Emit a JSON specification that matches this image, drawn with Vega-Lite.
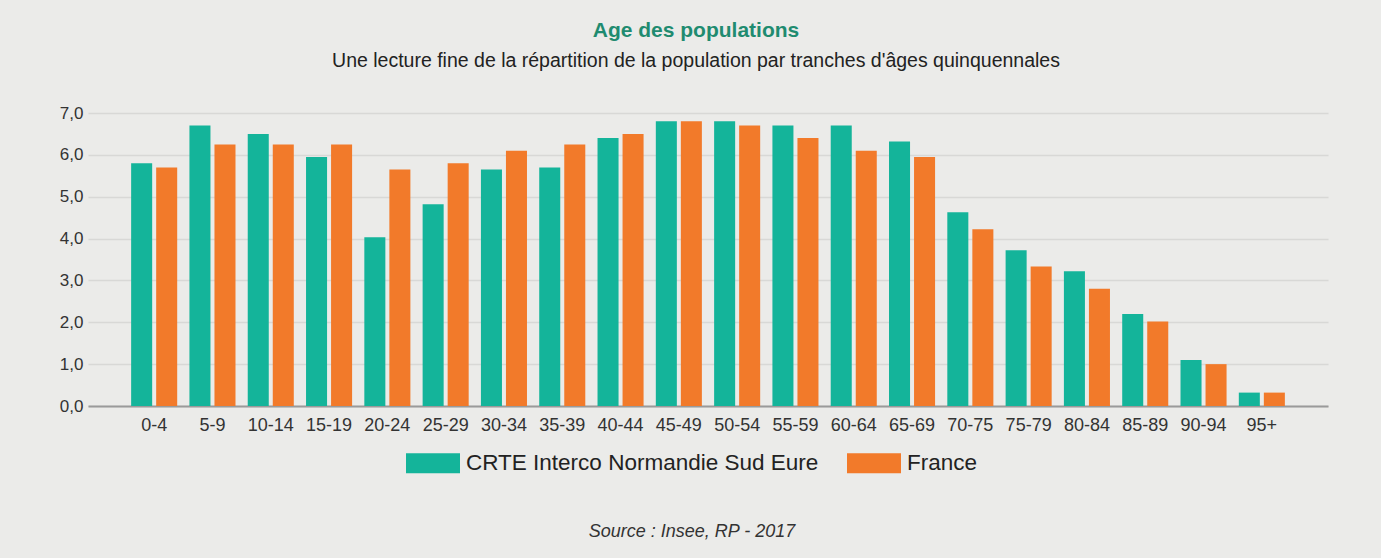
{
  "$schema": "https://vega.github.io/schema/vega-lite/v6.json",
  "autosize": {"type": "none"},
  "padding": {"left": 88, "top": 113, "right": 53, "bottom": 152},
  "width": 1240,
  "height": 293,
  "background": "#ebebe9",
  "title": {
    "text": "Age des populations",
    "subtitle": "Une lecture fine de la répartition de la population par tranches d'âges quinquennales",
    "anchor": "middle",
    "frame": "group",
    "dx": -12,
    "offset": 34,
    "font": "Liberation Sans",
    "fontSize": 21,
    "fontWeight": "bold",
    "color": "#1f8b70",
    "subtitleFont": "Liberation Sans",
    "subtitleFontSize": 19.5,
    "subtitleColor": "#222222",
    "subtitlePadding": 11,
    "limit": 1200
  },
  "data": {
    "values": [
      {"age": "0-4", "serie": "CRTE Interco Normandie Sud Eure", "valeur": 5.8},
      {"age": "0-4", "serie": "France", "valeur": 5.7},
      {"age": "5-9", "serie": "CRTE Interco Normandie Sud Eure", "valeur": 6.7},
      {"age": "5-9", "serie": "France", "valeur": 6.25},
      {"age": "10-14", "serie": "CRTE Interco Normandie Sud Eure", "valeur": 6.5},
      {"age": "10-14", "serie": "France", "valeur": 6.25},
      {"age": "15-19", "serie": "CRTE Interco Normandie Sud Eure", "valeur": 5.95},
      {"age": "15-19", "serie": "France", "valeur": 6.25},
      {"age": "20-24", "serie": "CRTE Interco Normandie Sud Eure", "valeur": 4.03},
      {"age": "20-24", "serie": "France", "valeur": 5.65},
      {"age": "25-29", "serie": "CRTE Interco Normandie Sud Eure", "valeur": 4.82},
      {"age": "25-29", "serie": "France", "valeur": 5.8},
      {"age": "30-34", "serie": "CRTE Interco Normandie Sud Eure", "valeur": 5.65},
      {"age": "30-34", "serie": "France", "valeur": 6.1},
      {"age": "35-39", "serie": "CRTE Interco Normandie Sud Eure", "valeur": 5.7},
      {"age": "35-39", "serie": "France", "valeur": 6.25},
      {"age": "40-44", "serie": "CRTE Interco Normandie Sud Eure", "valeur": 6.4},
      {"age": "40-44", "serie": "France", "valeur": 6.5},
      {"age": "45-49", "serie": "CRTE Interco Normandie Sud Eure", "valeur": 6.8},
      {"age": "45-49", "serie": "France", "valeur": 6.8},
      {"age": "50-54", "serie": "CRTE Interco Normandie Sud Eure", "valeur": 6.8},
      {"age": "50-54", "serie": "France", "valeur": 6.7},
      {"age": "55-59", "serie": "CRTE Interco Normandie Sud Eure", "valeur": 6.7},
      {"age": "55-59", "serie": "France", "valeur": 6.4},
      {"age": "60-64", "serie": "CRTE Interco Normandie Sud Eure", "valeur": 6.7},
      {"age": "60-64", "serie": "France", "valeur": 6.1},
      {"age": "65-69", "serie": "CRTE Interco Normandie Sud Eure", "valeur": 6.32},
      {"age": "65-69", "serie": "France", "valeur": 5.95},
      {"age": "70-75", "serie": "CRTE Interco Normandie Sud Eure", "valeur": 4.63},
      {"age": "70-75", "serie": "France", "valeur": 4.22},
      {"age": "75-79", "serie": "CRTE Interco Normandie Sud Eure", "valeur": 3.72},
      {"age": "75-79", "serie": "France", "valeur": 3.33},
      {"age": "80-84", "serie": "CRTE Interco Normandie Sud Eure", "valeur": 3.22},
      {"age": "80-84", "serie": "France", "valeur": 2.8},
      {"age": "85-89", "serie": "CRTE Interco Normandie Sud Eure", "valeur": 2.2},
      {"age": "85-89", "serie": "France", "valeur": 2.02},
      {"age": "90-94", "serie": "CRTE Interco Normandie Sud Eure", "valeur": 1.1},
      {"age": "90-94", "serie": "France", "valeur": 1.0},
      {"age": "95+", "serie": "CRTE Interco Normandie Sud Eure", "valeur": 0.32},
      {"age": "95+", "serie": "France", "valeur": 0.32}
    ]
  },
  "mark": {"type": "bar"},
  "encoding": {
    "x": {
      "field": "age",
      "type": "nominal",
      "sort": null,
      "scale": {"paddingInner": 0.21, "paddingOuter": 0.74},
      "axis": {
        "title": null,
        "labelAngle": 0,
        "labelFont": "Liberation Sans",
        "labelFontSize": 18,
        "labelColor": "#333333",
        "labelPadding": 10,
        "labelOverlap": false,
        "ticks": false,
        "domainColor": "#9a9a9a",
        "domainWidth": 2,
        "grid": false
      }
    },
    "xOffset": {
      "field": "serie",
      "type": "nominal",
      "sort": ["CRTE Interco Normandie Sud Eure", "France"],
      "scale": {"paddingInner": 0.16, "paddingOuter": 0}
    },
    "y": {
      "field": "valeur",
      "type": "quantitative",
      "scale": {"domain": [0, 7], "nice": false},
      "axis": {
        "title": null,
        "values": [0, 1, 2, 3, 4, 5, 6, 7],
        "labelExpr": "replace(format(datum.value, '.1f'), '.', ',')",
        "labelFont": "Liberation Sans",
        "labelFontSize": 17,
        "labelColor": "#333333",
        "labelPadding": 5,
        "ticks": false,
        "domain": false,
        "grid": true,
        "gridColor": "#d8d8d6",
        "gridWidth": 1.5
      }
    },
    "color": {
      "field": "serie",
      "type": "nominal",
      "sort": ["CRTE Interco Normandie Sud Eure", "France"],
      "scale": {"domain": ["CRTE Interco Normandie Sud Eure", "France"], "range": ["#14b49a", "#f27a2a"]},
      "legend": {
        "title": "Source : Insee, RP - 2017",
        "titleOrient": "bottom",
        "titleAnchor": "middle",
        "titleFont": "Liberation Sans",
        "titleFontSize": 18,
        "titleFontStyle": "italic",
        "titleFontWeight": "normal",
        "titleColor": "#333333",
        "titlePadding": 48,
        "titleLimit": 800,
        "orient": "none",
        "legendX": 318,
        "legendY": 323,
        "direction": "horizontal",
        "symbolType": "M-1,-0.37H1V0.37H-1Z",
        "symbolSize": 2916,
        "symbolStrokeWidth": 0,
        "symbolOpacity": 1,
        "labelFont": "Liberation Sans",
        "labelFontSize": 22.5,
        "labelColor": "#222222",
        "labelOffset": 6,
        "columnPadding": 28,
        "labelLimit": 500
      }
    }
  },
  "config": {
    "view": {"stroke": null},
    "font": "Liberation Sans"
  }
}
